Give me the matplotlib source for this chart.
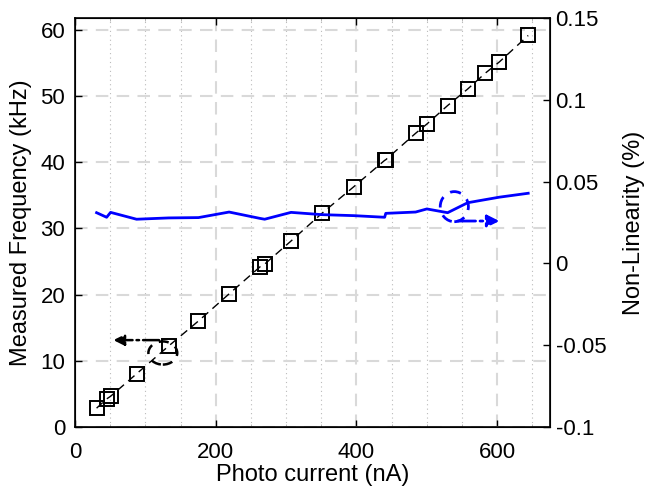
import matplotlib
matplotlib.use("Agg")
import matplotlib.pyplot as plt
from matplotlib.patches import Ellipse
from matplotlib.ticker import MultipleLocator

plt.rcParams['font.family'] = ['Liberation Sans', 'DejaVu Sans']

# datos
corriente = [30.7, 45, 50.6, 87.5, 133, 175.5, 219, 263, 269.5, 307, 351,
             396, 440, 441.6, 484, 500, 529.5, 558, 583, 603, 644]
frecuencia = [2.8, 4.2, 4.6, 8.0, 12.2, 16.0, 20.1, 24.2, 24.6, 28.1, 32.3,
              36.3, 40.3, 40.4, 44.4, 45.8, 48.6, 51.1, 53.5, 55.2, 59.2]
no_linealidad = [0.0310, 0.0282, 0.0312, 0.0270, 0.0278, 0.0280, 0.0314,
                 0.0275, 0.0270, 0.0312, 0.0298, 0.0292, 0.0282, 0.0306,
                 0.0314, 0.0333, 0.0310, 0.0371, 0.0390, 0.0405, 0.0429]

yticks_der = [-0.1, -0.05, 0, 0.05, 0.1, 0.15]
yticks_der_txt = ['-0.1', '-0.05', '0', '0.05', '0.1', '0.15']

fig = plt.figure(figsize=(6.52, 4.91), dpi=100)
ax = fig.add_axes([0.115, 0.131, 0.7286, 0.8317])
ax2 = ax.twinx()

# grilla
ax.set_axisbelow(True)
ax.grid(True, which='major', color='#d9d9d9', linestyle=(0, (6, 4)), linewidth=1.5)
ax.xaxis.set_minor_locator(MultipleLocator(50))
ax.grid(True, which='minor', axis='x', color='#bbbbbb', linestyle=(0, (1, 3)), linewidth=0.8)

# frecuencia medida
ax.plot(corriente, frecuencia, color='black', linestyle=(0, (6, 4)), linewidth=1,
        marker='s', markersize=9.5, markerfacecolor='none', markeredgecolor='black',
        markeredgewidth=1.4, zorder=3)

# no linealidad
ax2.plot(corriente, no_linealidad, color='#0000ff', linewidth=2)

ax.set_xlim(0, 675)
ax.set_ylim(0, 61.8)
ax.set_xticks([0, 200, 400, 600])
ax.set_yticks([0, 10, 20, 30, 40, 50, 60])
ax2.set_ylim(-0.1, 0.15)
ax2.set_yticks(yticks_der)
ax2.set_yticklabels(yticks_der_txt)

ax.tick_params(direction='in', labelsize=16, length=5, width=1, top=True, right=False)
ax.tick_params(axis='x', pad=11)
ax.tick_params(axis='y', pad=7)
ax.tick_params(which='minor', direction='in', length=2, top=True, bottom=True, color='#aaaaaa')
ax2.tick_params(direction='in', labelsize=16, length=5, width=1, pad=4)

ax.set_xlabel('Photo current (nA)', fontsize=17, labelpad=1)
ax.set_ylabel('Measured Frequency (kHz)', fontsize=17, labelpad=6)
ax2.set_ylabel('Non-Linearity (%)', fontsize=17, labelpad=12)

for s in ax.spines.values():
    s.set_linewidth(1.2)

# anotaciones: elipse + flecha
ax.add_patch(Ellipse((124.8, 11.15), 41, 3.5, fill=False, edgecolor='black',
                     linestyle=(0, (4, 3)), linewidth=1.8, zorder=4))
ax.annotate('', xy=(50.6, 13.1), xytext=(123.4, 13.1),
            arrowprops=dict(arrowstyle='-|>', color='black', linestyle='-.',
                            linewidth=1.8, mutation_scale=16), zorder=4)

ax2.add_patch(Ellipse((539, 0.0347), 40, 0.0184, fill=False, edgecolor='#0000ff',
                      linestyle=(0, (4, 3)), linewidth=2))
ax2.annotate('', xy=(607, 0.0259), xytext=(540, 0.0259),
             arrowprops=dict(arrowstyle='-|>', color='#0000ff', linestyle='-.',
                             linewidth=2, mutation_scale=18))

fig.savefig('out.png', dpi=100)
